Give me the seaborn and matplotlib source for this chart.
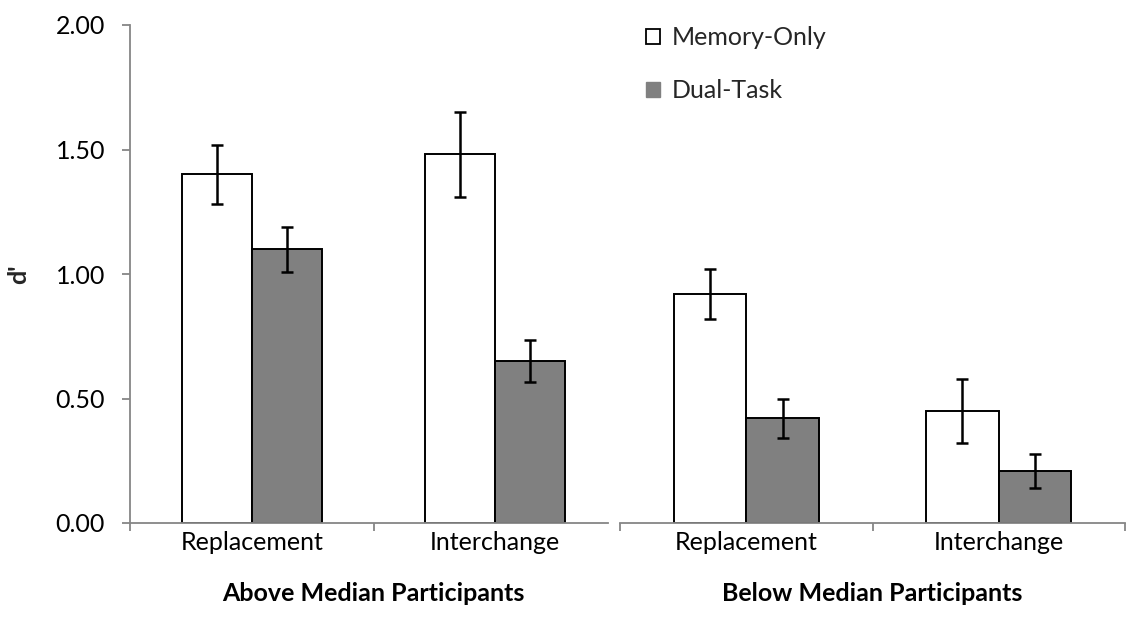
import matplotlib
matplotlib.use("Agg")
import matplotlib.pyplot as plt
import seaborn as sns
import pandas as pd
from matplotlib.patches import Patch
from matplotlib.ticker import FixedLocator

# ---- data ----
categories = ["Replacement", "Interchange"]
series = ["Memory-Only", "Dual-Task"]
group_titles = ["Above Median Participants", "Below Median Participants"]

above_memory = [1.40, 1.48]
above_memory_err = [0.12, 0.17]
above_dual = [1.10, 0.65]
above_dual_err = [0.09, 0.085]

below_memory = [0.92, 0.45]
below_memory_err = [0.10, 0.13]
below_dual = [0.42, 0.21]
below_dual_err = [0.08, 0.068]

y_ticks = [0.0, 0.5, 1.0, 1.5, 2.0]
y_label = "d'"

# ---- style ----
sns.set_theme(style="white")
plt.rcParams['font.family'] = ['Lato', 'DejaVu Sans']
AXIS_GRAY = "#868686"
FS = 18

W, H = 1128, 632
fig = plt.figure(figsize=(W / 100, H / 100), dpi=100)
Y0, Y1 = 523, 25


def axes_px(x0, x1):
    return fig.add_axes([x0 / W, (H - Y0) / H, (x1 - x0) / W, (Y0 - Y1) / H])


axL = axes_px(130, 617)
axR = axes_px(620, 1125)

panels = [
    (axL, above_memory, above_memory_err, above_dual, above_dual_err, group_titles[0]),
    (axR, below_memory, below_memory_err, below_dual, below_dual_err, group_titles[1]),
]

palette = {"Memory-Only": "white", "Dual-Task": "#808080"}

for ax, mo, mo_e, dt, dt_e, title in panels:
    df = pd.DataFrame({
        "Condition": categories * 2,
        "Task": [series[0]] * len(categories) + [series[1]] * len(categories),
        "d": mo + dt,
    })
    sns.barplot(data=df, x="Condition", y="d", hue="Task", hue_order=series,
                order=categories, palette=palette, width=0.575, saturation=1,
                edgecolor="black", linewidth=1.4, errorbar=None, legend=False, ax=ax)
    for cont, errs in zip(ax.containers, [mo_e, dt_e]):
        xs = [b.get_x() + b.get_width() / 2 for b in cont]
        hs = [b.get_height() for b in cont]
        ax.errorbar(xs, hs, yerr=errs, fmt='none', ecolor='black',
                    elinewidth=1.8, capsize=4.5, capthick=1.8, zorder=5)
    ax.set_xlim(-0.5, 1.5)
    ax.set_ylim(0, 2)
    ax.set_ylabel("")
    ax.set_xlabel(title, fontweight='bold', fontsize=FS, labelpad=20, color='black')
    ax.tick_params(axis='x', which='major', length=0, labelsize=FS, pad=6, colors='black')
    ax.tick_params(axis='x', which='minor', length=6, width=1.3, color=AXIS_GRAY,
                   direction='out', bottom=True)
    for s in ["top", "right"]:
        ax.spines[s].set_visible(False)
    ax.spines["bottom"].set_color(AXIS_GRAY)
    ax.spines["bottom"].set_linewidth(1.3)
    ax.set_facecolor("none")

# left panel
axL.xaxis.set_minor_locator(FixedLocator([-0.5, 0.5]))
xend = -0.5 + (608 - 130) / ((617 - 130) / 2)
axL.spines["bottom"].set_bounds(-0.5, xend)
axL.spines["left"].set_color(AXIS_GRAY)
axL.spines["left"].set_linewidth(1.3)
axL.set_yticks(y_ticks)
axL.set_yticklabels([f"{v:.2f}" for v in y_ticks])
axL.tick_params(axis='y', length=6, width=1.3, color=AXIS_GRAY, direction='out',
                left=True, labelsize=FS, pad=12, labelcolor='black')
axL.set_ylabel(y_label, fontweight='bold', fontsize=FS, labelpad=18)

# right panel
axR.xaxis.set_minor_locator(FixedLocator([-0.5, 0.5, 1.5]))
axR.spines["left"].set_visible(False)
axR.set_yticks([])

handles = [
    Patch(facecolor="white", edgecolor="black", linewidth=1.3, label=series[0]),
    Patch(facecolor="#808080", edgecolor="#808080", label=series[1]),
]
fig.legend(handles=handles, loc='upper left', bbox_to_anchor=(646 / W, 1 - 26 / H),
           frameon=False, fontsize=FS, handlelength=0.56, handleheight=0.56,
           handletextpad=0.45, labelspacing=1.2, borderpad=0, borderaxespad=0)

fig.savefig("out.png", dpi=100, facecolor="white")
